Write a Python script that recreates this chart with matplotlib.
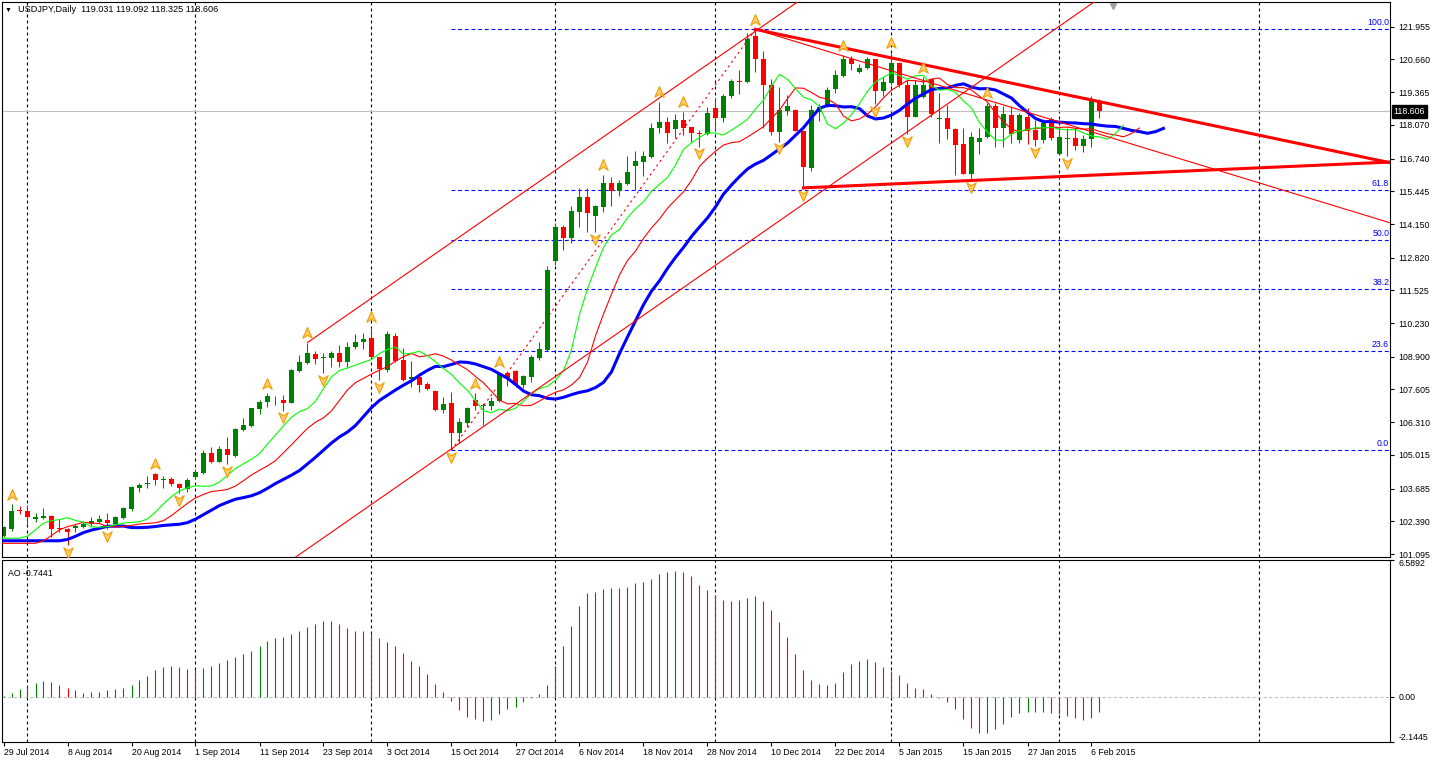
import numpy as np
import matplotlib
matplotlib.use("Agg")
import matplotlib.pyplot as plt
from matplotlib.path import Path
from matplotlib.transforms import blended_transform_factory

plt.rcParams['font.family'] = ['Liberation Sans', 'DejaVu Sans']

# ---- daily USDJPY bars, 29 Jul 2014 .. 9 Feb 2015 (index = bar number) ----
opens = [101.81, 102.07, 102.84, 102.80, 102.47, 102.53, 102.60, 102.11, 102.10, 102.14,
         102.18, 102.27, 102.38, 102.44, 102.28, 102.53, 102.86, 103.72, 103.85, 104.26,
         104.04, 104.06, 103.87, 103.65, 104.13, 104.31, 105.08, 104.75, 105.25, 104.97,
         106.00, 106.17, 106.83, 107.09, 107.20, 107.19, 107.08, 108.33, 108.66, 109.01,
         108.84, 108.84, 109.03, 108.70, 109.27, 109.47, 109.65, 108.90, 108.38, 109.72,
         108.77, 108.01, 108.11, 107.82, 107.54, 106.79, 107.08, 105.90, 106.29, 107.19,
         106.95, 106.96, 107.15, 108.24, 108.34, 107.78, 108.11, 108.86, 109.17, 112.70,
         114.04, 113.58, 114.64, 115.23, 114.48, 114.84, 115.79, 115.47, 115.73, 116.46,
         116.62, 116.79, 117.96, 118.20, 117.90, 118.27, 118.00, 117.74, 117.70, 118.73,
         118.36, 119.23, 119.81, 119.78, 121.59, 120.68, 119.65, 117.80, 118.63, 118.66,
         117.84, 116.38, 118.59, 118.79, 119.49, 120.00, 120.66, 120.18, 120.33, 120.66,
         119.41, 119.71, 120.51, 119.65, 118.40, 119.19, 119.87, 118.29, 118.33, 117.91,
         117.32, 116.13, 117.41, 117.58, 118.82, 117.94, 118.46, 117.47, 118.40, 117.87,
         117.47, 118.29, 116.92, 117.51, 117.54, 117.24, 117.50, 119.031]
highs = [102.20, 103.07, 102.99, 103.02, 102.70, 102.90, 102.64, 102.47, 102.13, 102.28,
         102.36, 102.55, 102.64, 102.70, 102.60, 102.94, 103.79, 103.92, 104.18, 104.29,
         104.18, 104.16, 103.92, 104.09, 104.45, 105.21, 105.34, 105.37, 105.74, 106.07,
         106.46, 106.88, 107.19, 107.45, 107.35, 107.39, 108.40, 108.97, 109.46, 109.14,
         109.03, 109.14, 109.36, 109.50, 109.79, 109.85, 110.09, 108.90, 109.93, 109.83,
         109.23, 108.74, 108.24, 107.91, 107.58, 107.32, 107.49, 106.46, 106.92, 107.45,
         107.06, 107.32, 108.31, 108.31, 108.36, 108.18, 108.97, 109.47, 112.50, 114.20,
         114.10, 114.85, 115.56, 115.59, 114.90, 116.09, 116.00, 115.89, 116.85, 117.05,
         117.04, 118.13, 118.99, 118.40, 118.49, 118.59, 118.00, 117.87, 118.79, 119.12,
         119.28, 119.89, 120.24, 121.69, 121.85, 121.00, 119.87, 119.56, 119.25, 118.69,
         117.87, 118.86, 118.90, 119.56, 120.24, 120.83, 120.79, 120.48, 120.74, 120.66,
         119.98, 120.93, 120.54, 119.85, 119.85, 119.95, 119.88, 119.34, 118.86, 117.93,
         117.94, 117.80, 117.94, 118.95, 118.92, 118.82, 118.82, 118.53, 118.73, 118.26,
         118.29, 118.40, 118.00, 117.94, 117.94, 117.67, 119.21, 119.092]
lows = [101.76, 102.02, 102.68, 102.24, 102.38, 102.47, 101.76, 101.98, 101.45, 101.98,
        102.11, 102.20, 102.31, 102.09, 102.24, 102.49, 102.81, 103.56, 103.69, 103.83,
        103.69, 103.79, 103.52, 103.56, 104.05, 104.26, 104.71, 104.72, 104.66, 104.95,
        105.97, 106.13, 106.62, 106.92, 106.99, 106.77, 107.06, 108.31, 108.60, 108.61,
        108.24, 108.48, 108.48, 108.48, 109.19, 109.19, 108.84, 107.98, 108.31, 108.70,
        107.95, 107.72, 107.52, 107.58, 106.77, 106.66, 105.21, 105.47, 106.13, 106.79,
        106.20, 106.79, 107.12, 107.76, 107.72, 107.65, 107.91, 108.77, 109.14, 112.53,
        113.12, 113.39, 114.04, 113.85, 113.82, 114.61, 114.88, 115.27, 115.69, 115.49,
        116.05, 116.75, 117.74, 117.34, 117.54, 117.67, 117.41, 117.21, 117.67, 117.87,
        118.20, 119.12, 119.29, 119.71, 120.18, 117.96, 117.67, 117.41, 118.46, 117.84,
        115.55, 116.26, 118.24, 118.76, 119.32, 119.95, 120.24, 120.14, 120.27, 118.90,
        119.21, 119.65, 119.58, 117.71, 118.37, 119.12, 118.37, 117.34, 117.50, 116.07,
        116.13, 115.89, 116.92, 117.54, 117.18, 117.18, 117.37, 117.37, 117.32, 117.25,
        117.34, 117.47, 116.92, 116.85, 117.08, 117.01, 117.18, 118.325]
closes = [102.15, 102.80, 102.80, 102.57, 102.57, 102.60, 102.07, 102.09, 101.98, 102.20,
          102.27, 102.42, 102.47, 102.34, 102.55, 102.90, 103.76, 103.83, 103.92, 104.02,
          104.06, 103.85, 103.69, 104.02, 104.34, 105.08, 104.75, 105.25, 105.01, 106.04,
          106.20, 106.86, 107.11, 107.35, 107.17, 107.08, 108.37, 108.68, 109.06, 108.81,
          108.88, 109.03, 108.70, 109.27, 109.50, 109.60, 108.88, 108.40, 109.80, 108.74,
          107.98, 108.11, 107.78, 107.61, 106.79, 107.03, 105.90, 106.33, 106.88, 106.95,
          107.00, 107.15, 108.24, 108.07, 107.78, 108.14, 108.90, 109.20, 112.33, 114.04,
          113.58, 114.67, 115.23, 114.57, 114.88, 115.79, 115.47, 115.76, 116.22, 116.66,
          116.85, 117.93, 118.20, 117.74, 118.27, 117.96, 117.74, 117.70, 118.53, 118.36,
          119.23, 119.81, 119.75, 121.47, 120.68, 119.66, 117.80, 118.66, 118.82, 117.84,
          116.39, 118.66, 118.79, 119.45, 120.04, 120.66, 120.47, 120.31, 120.66, 119.42,
          119.78, 120.51, 119.65, 118.37, 119.65, 119.65, 118.50, 118.33, 117.91, 117.28,
          116.13, 117.58, 117.54, 118.82, 117.94, 118.49, 117.71, 118.46, 117.84, 117.47,
          118.16, 117.54, 117.58, 117.55, 117.24, 117.53, 119.06, 118.606]

# Awesome Oscillator, one value per bar
ao_values = [0.05, 0.19, 0.38, 0.53, 0.67, 0.76, 0.72, 0.57, 0.43, 0.33,
             0.19, 0.24, 0.25, 0.33, 0.38, 0.43, 0.57, 0.81, 1.00, 1.29,
             1.43, 1.48, 1.43, 1.34, 1.33, 1.39, 1.48, 1.63, 1.77, 1.91,
             2.06, 2.20, 2.44, 2.68, 2.82, 2.87, 3.01, 3.15, 3.35, 3.49,
             3.63, 3.64, 3.49, 3.30, 3.15, 3.14, 3.06, 2.82, 2.63, 2.44,
             2.10, 1.72, 1.48, 1.10, 0.62, 0.24, -0.19, -0.62, -0.96, -1.05,
             -1.15, -1.10, -0.81, -0.57, -0.48, -0.24, -0.03, 0.14, 0.57, 1.48,
             2.44, 3.39, 4.35, 4.97, 5.02, 5.16, 5.21, 5.20, 5.26, 5.45,
             5.50, 5.64, 5.88, 5.97, 6.02, 6.00, 5.78, 5.35, 5.11, 4.88,
             4.64, 4.59, 4.64, 4.73, 4.83, 4.59, 4.16, 3.58, 2.87, 2.06,
             1.29, 0.81, 0.62, 0.57, 0.67, 1.19, 1.58, 1.72, 1.82, 1.67,
             1.43, 1.24, 1.05, 0.67, 0.43, 0.38, 0.14, -0.05, -0.24, -0.57,
             -1.05, -1.48, -1.72, -1.71, -1.53, -1.29, -0.96, -0.76, -0.72, -0.71,
             -0.70, -0.76, -0.81, -0.91, -1.00, -1.10, -1.00, -0.7441]

fractal_up = [1, 19, 33, 38, 46, 59, 62, 75, 82, 85, 94, 105, 111, 115, 123]
fractal_down = [8, 13, 22, 28, 35, 40, 47, 56, 74, 87, 97, 100, 109, 113, 121, 129, 133]

date_labels = ['29 Jul 2014', '8 Aug 2014', '20 Aug 2014', '1 Sep 2014', '11 Sep 2014',
               '23 Sep 2014', '3 Oct 2014', '15 Oct 2014', '27 Oct 2014', '6 Nov 2014',
               '18 Nov 2014', '28 Nov 2014', '10 Dec 2014', '22 Dec 2014', '5 Jan 2015',
               '15 Jan 2015', '27 Jan 2015', '6 Feb 2015']
date_label_bars = list(range(0, 137, 8))
grid_bars = [3, 24, 46, 69, 89, 111, 132, 157]

price_ticks = [121.955, 120.660, 119.365, 118.070, 116.740, 115.445, 114.150, 112.820,
               111.525, 110.230, 108.900, 107.605, 106.310, 105.015, 103.685, 102.390, 101.095]
ao_ticks = [6.5892, 0.0, -2.1445]

# drawn objects: (bar, price) anchors
fib_start = (56, 105.21)
fib_end = (94, 121.85)
fib_levels = [0.0, 23.6, 38.2, 50.0, 61.8, 100.0]
triangle_top = [(94, 121.85), (137, 118.99)]
triangle_bottom = [(100, 115.58), (173.3, 116.60)]
channel_upper = [(38, 109.46), (60, 114.30)]
channel_lower = [(36, 100.86), (56, 105.26)]
down_line = [(94, 121.85), (173.3, 114.20)]
last_price = 118.606

# Alligator: level of the median price before the first bar
jaw_seed, teeth_seed, lips_seed = 101.62, 101.52, 101.72

BULL = '#008000'
BEAR = '#FF0000'

opens, highs, lows, closes = map(np.array, (opens, highs, lows, closes))
n = len(closes)
x = np.arange(n)

W, H = 1437, 761
fig = plt.figure(figsize=(W / 100, H / 100), dpi=100)
fig.patch.set_facecolor('white')


def px_axes(x0, y0, x1, y1):
    return fig.add_axes([x0 / W, 1 - y1 / H, (x1 - x0) / W, (y1 - y0) / H])


ax = px_axes(2, 2, 1390, 557)
ax_ao = px_axes(2, 559.5, 1390, 741.7)
XMIN, XMAX = -0.1875, 173.3125
for a in (ax, ax_ao):
    a.set_xlim(XMIN, XMAX)
    for s in a.spines.values():
        s.set_color('black')
        s.set_linewidth(0.8)
    for gb in grid_bars:
        a.axvline(gb, color='black', lw=0.8, ls=(0, (2.7, 2.7)), zorder=0)
ax.set_ylim(100.978, 122.932)
ax_ao.set_ylim(-2.1445, 6.5892)

# current price line
ax.axhline(last_price, color='#C0C0C0', lw=0.8, zorder=0.5)

# fibonacci retracement
lo, hi = fib_start[1], fib_end[1]
for lvl in fib_levels:
    p = lo + lvl / 100 * (hi - lo)
    ax.hlines(p, fib_start[0], XMAX, color='#0000FF', lw=0.8, ls=(0, (3.5, 2.5)), zorder=1)
    ax.text(XMAX - 0.1, p + 0.08, f'{lvl:.1f}', color='#0000FF', fontsize=6.3,
            ha='right', va='bottom')
ax.plot([fib_start[0], fib_end[0]], [fib_start[1], fib_end[1]], color=BEAR, lw=0.8,
        ls=(0, (2, 3)), zorder=1)

# candles
up = closes >= opens
colors = np.where(up, BULL, BEAR)
ax.vlines(x, lows, highs, colors=colors, lw=0.75, zorder=2)
body_lo = np.minimum(opens, closes)
body_h = np.maximum(np.abs(closes - opens), 0.03)
ax.bar(x, body_h, bottom=body_lo, width=0.6, color=colors, lw=0, zorder=2)


# alligator: exponential averages of the median price, shifted forward
def ema(values, period, seed):
    alpha = 2.0 / (period + 1)
    out, prev = [], seed
    for v in values:
        prev = prev + alpha * (v - prev)
        out.append(prev)
    return np.array(out)


median = (highs + lows) / 2
for period, shift, seed, col, lw in [(13, 8, jaw_seed, '#0000FF', 2.2),
                                     (8, 5, teeth_seed, '#FF0000', 0.8),
                                     (5, 3, lips_seed, '#00FF00', 0.8)]:
    vals = ema(median, period, seed)
    xs = np.concatenate([[-1, shift - 1], x + shift])
    ys = np.concatenate([[seed, seed], vals])
    ax.plot(xs, ys, color=col, lw=lw, zorder=3, solid_joinstyle='round')


# trend lines extended to the right edge
def ray(pts, lw):
    (x0, y0), (x1, y1) = pts
    k = (y1 - y0) / (x1 - x0)
    xs = np.array([x0, XMAX])
    ax.plot(xs, y0 + k * (xs - x0), color=BEAR, lw=lw, zorder=4)


ray(triangle_top, 2.2)
ray(triangle_bottom, 2.2)
ray(channel_upper, 0.8)
ray(channel_lower, 0.8)
ray(down_line, 0.8)

# fractal arrows
up_arrow = Path([(0, 1), (0.8, -0.8), (0, -0.3), (-0.8, -0.8), (0, 1)],
                [Path.MOVETO, Path.LINETO, Path.LINETO, Path.LINETO, Path.CLOSEPOLY])
down_arrow = Path([(0, -1), (0.8, 0.8), (0, 0.3), (-0.8, 0.8), (0, -1)],
                  [Path.MOVETO, Path.LINETO, Path.LINETO, Path.LINETO, Path.CLOSEPOLY])
ax.plot(fractal_up, highs[fractal_up] + 0.38, ls='none', marker=up_arrow, ms=8.5,
        mfc='#FFCC70', mec='#F0A000', mew=0.8, zorder=5)
ax.plot(fractal_down, lows[fractal_down] - 0.27, ls='none', marker=down_arrow, ms=8.5,
        mfc='#FFCC70', mec='#F0A000', mew=0.8, zorder=5)

# chart shift marker
ax.plot([138.7], [122.78], marker='v', ms=5, color='#A0A0A0', ls='none', clip_on=False)

# price scale
ax.yaxis.tick_right()
ax.set_yticks(price_ticks)
ax.set_yticklabels([f'{v:.3f}' for v in price_ticks])
ax.tick_params(axis='y', length=3, width=0.8, pad=3, labelsize=6.3, colors='black')
ax.set_xticks([])
trans = blended_transform_factory(ax.transAxes, ax.transData)
ax.text(1.0025, last_price, f'{last_price:.3f}', transform=trans, color='white',
        fontsize=6.3, ha='left', va='center',
        bbox=dict(boxstyle='square,pad=0.2', fc='black', ec='black'))

# AO panel
ao = np.array(ao_values)
ao_col = [BULL if i == 0 or ao[i] > ao[i - 1] else BEAR for i in range(n)]
ax_ao.vlines(x, 0, ao, colors=ao_col, lw=0.8, zorder=2)
ax_ao.axhline(0, color='#C0C0C0', lw=0.8, ls=(0, (3, 2)), zorder=1)
ax_ao.yaxis.tick_right()
ax_ao.set_yticks(ao_ticks)
ax_ao.set_yticklabels(['6.5892', '0.00', '-2.1445'])
ax_ao.tick_params(axis='y', length=3, width=0.8, pad=3, labelsize=6.3)
labs = ax_ao.get_yticklabels()
labs[0].set_va('top')
labs[2].set_va('bottom')
ax_ao.set_xticks(date_label_bars)
ax_ao.set_xticklabels(date_labels, ha='left')
ax_ao.tick_params(axis='x', length=3, width=0.8, pad=1.5, labelsize=6.3)
ax_ao.text(0.004, 0.95, f'AO {ao_values[-1]:.4f}', transform=ax_ao.transAxes,
           fontsize=6.3, ha='left', va='top')

# header
fig.text(5 / W, 1 - 10 / H, '\u25bc', fontsize=5, va='center', ha='left')
fig.text(18 / W, 1 - 10 / H,
         f'USDJPY,Daily  {opens[-1]:.3f} {highs[-1]:.3f} {lows[-1]:.3f} {closes[-1]:.3f}',
         fontsize=6.6, va='center', ha='left')

fig.savefig('out.png', dpi=100)
